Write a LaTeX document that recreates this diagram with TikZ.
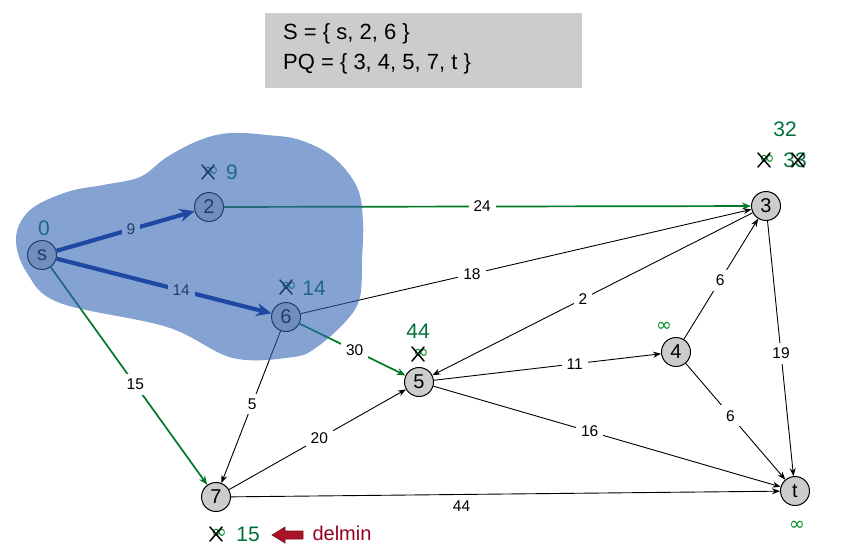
\documentclass[tikz,border=0pt]{standalone}
\usepackage{fontspec}
\setmainfont{Liberation Sans}
\newfontfamily\symfont{DejaVu Sans}
\usetikzlibrary{arrows.meta}
\definecolor{nodegray}{RGB}{204,204,204}
\definecolor{boxgray}{RGB}{204,204,204}
\definecolor{edgegreen}{RGB}{0,120,40}
\definecolor{distgreen}{RGB}{0,110,60}
\definecolor{infgreen}{RGB}{0,140,40}
\definecolor{pathblue}{RGB}{0,30,140}
\definecolor{blobblue}{RGB}{50,100,180}
\definecolor{delred}{RGB}{150,0,30}
\definecolor{arrowred}{RGB}{170,20,40}
\newcommand\crossinf[2]{%
  \node[infsym] (#1) at (#2) {∞};
  \draw[crossx] ([shift={(-9,-7)}]#1.center) -- ([shift={(3,7)}]#1.center)
                ([shift={(3,-7)}]#1.center) -- ([shift={(-9,7)}]#1.center);}
\begin{document}
\begin{tikzpicture}[x=1pt,y=-1pt,
  vert/.style={circle,draw,line width=1pt,fill=nodegray,minimum size=29pt,inner sep=0pt,font=\fontsize{20}{20}\selectfont},
  elab/.style={fill=white,inner sep=5pt,font=\fontsize{15.5}{15.5}\selectfont},
  plainedge/.style={draw,line width=0.9pt,-{Stealth[length=8pt,width=6pt]}},
  gedge/.style={draw=edgegreen,line width=1.7pt,-{Stealth[length=9pt,width=7pt]}},
  bedge/.style={draw=pathblue,line width=4.2pt,-{Stealth[length=15pt,width=13pt]}},
  distlab/.style={text=distgreen,font=\fontsize{21}{21}\selectfont,inner sep=0pt},
  infsym/.style={text=infgreen,font=\symfont\fontsize{19}{19}\selectfont,inner sep=0pt},
  crossx/.style={draw=black,line width=1.5pt,line cap=round},
]
\useasboundingbox (0,0) rectangle (843,550);
% top box
\fill[boxgray] (265,13) rectangle (582,88);
\node[anchor=west,font=\fontsize{22}{22}\selectfont,inner sep=0pt] (setS) at (283,34) {S = \{ s, 2, 6 \}};
\node[anchor=west,font=\fontsize{22}{22}\selectfont,inner sep=0pt] (setPQ) at (283,64) {PQ = \{ 3, 4, 5, 7, t \}};
% vertices
\node[vert] (s) at (42,255) {s};
\node[vert] (n2) at (209,207) {2};
\node[vert] (n6) at (286,317) {6};
\node[vert] (n3) at (766,206) {3};
\node[vert] (n5) at (419,382) {5};
\node[vert] (n4) at (676,352) {4};
\node[vert] (n7) at (216,497) {7};
\node[vert] (t) at (795,491) {t};
% edges
\draw[bedge] (s) -- node[elab,pos=.54]{9} (n2);
\draw[bedge] (s) -- node[elab,pos=.58]{14} (n6);
\draw[gedge] (s) -- node[elab,pos=.54]{15} (n7);
\draw[gedge] (n2) -- node[elab,pos=.49]{24} (n3);
\draw[plainedge] (n6) -- node[elab,pos=.38]{18} (n3);
\draw[gedge] (n6) -- node[elab,pos=.52]{30} (n5);
\draw[plainedge] (n6) -- node[elab,pos=.48]{5} (n7);
\draw[plainedge] (n3) -- node[elab,pos=.53]{2} (n5);
\draw[plainedge] (n5) -- node[elab,pos=.62]{11} (n4);
\draw[plainedge] (n4) -- node[elab,pos=.49]{6} (n3);
\draw[plainedge] (n3) -- node[elab,pos=.52]{19} (t);
\draw[plainedge] (n4) -- node[elab,pos=.45]{6} (t);
\draw[plainedge] (n5) -- node[elab,pos=.45]{16} (t);
\draw[plainedge] (n7) -- node[elab,pos=.51]{20} (n5);
\draw[plainedge] (n7) -- node[elab,pos=.42,below=1pt,fill=none]{44} (t);
% distance labels
\node[distlab] (ds) at (44,228) {0};
\crossinf{i2}{211,172}
\node[distlab] (d2) at (232,172) {9};
\crossinf{i6}{289,287}
\node[distlab] (d6) at (314,288) {14};
\node[distlab] (d5) at (418,331) {44};
\crossinf{i5}{421,354}
\node[distlab] (d3) at (785,129) {32};
\crossinf{i3}{767,160}
\node[distlab] (d3old) at (795,160) {33};
\draw[crossx] ([shift={(-3,-7)}]d3old.east) -- ([shift={(-15,7)}]d3old.east)
              ([shift={(-15,-7)}]d3old.east) -- ([shift={(-3,7)}]d3old.east);
\node[infsym] (i4) at (664,327) {∞};
\node[infsym] (it) at (797,526) {∞};
\crossinf{i7}{219,534}
\node[distlab] (d7) at (248,534) {15};
% delmin
\filldraw[fill=arrowred,draw=arrowred!70!black,line width=0.6pt]
  (272,535) -- (285,527) -- (285,531) -- (303,531) -- (303,539) -- (285,539) -- (285,543) -- cycle;
\node[text=delred,font=\fontsize{20}{20}\selectfont,inner sep=0pt] (delmin) at (342,533) {delmin};
% cloud S
\fill[blobblue,opacity=0.6] plot[smooth cycle,tension=0.6] coordinates {
 (16,238) (30,210) (67,192) (103,185) (140,177) (167,157) (200,140) (230,133)
 (267,135) (300,140) (333,157) (357,187) (363,222) (362,260) (360,297) (347,320)
 (317,347) (293,357) (233,358) (167,327) (60,303) (27,273)};
\end{tikzpicture}
\end{document}
